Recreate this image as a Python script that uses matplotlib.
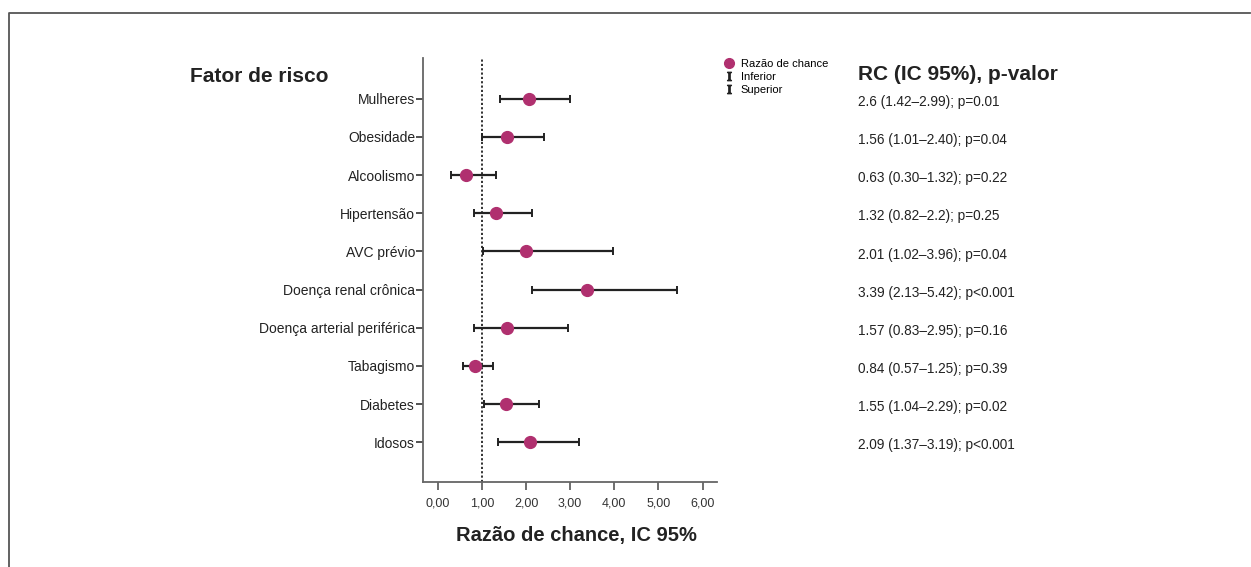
import matplotlib.pyplot as plt
from matplotlib.lines import Line2D
from matplotlib.transforms import blended_transform_factory

# dados
fatores = ['Mulheres', 'Obesidade', 'Alcoolismo', 'Hipertensão', 'AVC prévio',
           'Doença renal crônica', 'Doença arterial periférica', 'Tabagismo',
           'Diabetes', 'Idosos']
razao = [2.06, 1.56, 0.63, 1.32, 2.01, 3.39, 1.57, 0.84, 1.55, 2.09]
inferior = [1.42, 1.01, 0.30, 0.82, 1.02, 2.13, 0.83, 0.57, 1.04, 1.37]
superior = [2.99, 2.40, 1.32, 2.14, 3.96, 5.42, 2.95, 1.25, 2.29, 3.19]
rotulos = ['2.6 (1.42–2.99); p=0.01', '1.56 (1.01–2.40); p=0.04',
           '0.63 (0.30–1.32); p=0.22', '1.32 (0.82–2.2); p=0.25',
           '2.01 (1.02–3.96); p=0.04', '3.39 (2.13–5.42); p<0.001',
           '1.57 (0.83–2.95); p=0.16', '0.84 (0.57–1.25); p=0.39',
           '1.55 (1.04–2.29); p=0.02', '2.09 (1.37–3.19); p<0.001']
xticks = [0, 1, 2, 3, 4, 5, 6]
xtick_labels = ['0,00', '1,00', '2,00', '3,00', '4,00', '5,00', '6,00']

plt.rcParams['font.family'] = ['Liberation Sans', 'DejaVu Sans']
plt.rcParams['mathtext.fontset'] = 'stix'
cor = '#B0306F'
escuro = '#222222'

fig = plt.figure(figsize=(12.51, 5.67), dpi=100)
ax = fig.add_axes([0.3384, 0.1494, 0.2345, 0.7483])

y = list(range(len(fatores)))
err = [[r - lo for r, lo in zip(razao, inferior)],
       [hi - r for r, hi in zip(razao, superior)]]
ax.errorbar(razao, y, xerr=err, fmt='none', ecolor=escuro, elinewidth=1.6,
            capsize=3, capthick=1.4, zorder=2)
ax.plot(razao, y, 'o', color=cor, markersize=8.5, zorder=3, linestyle='none')
ax.axvline(1, color=escuro, linestyle=(0, (1.2, 1.2)), linewidth=1.3, zorder=1)

ax.set_xlim(-0.326, 6.32)
ax.set_ylim(10.05, -1.07)
ax.set_yticks(y)
ax.set_yticklabels(fatores, fontsize=10, color=escuro)
ax.set_xticks(xticks)
ax.set_xticklabels(xtick_labels, fontsize=9, color='#333333')
ax.tick_params(axis='y', length=5, width=1.2, color='#333333', pad=1)
ax.tick_params(axis='x', length=6, width=1.2, color='#555555', pad=5)
for s in ['top', 'right']:
    ax.spines[s].set_visible(False)
for s in ['left', 'bottom']:
    ax.spines[s].set_color('#666666')
    ax.spines[s].set_linewidth(1.3)

# textos à direita (x em coordenadas da figura, y nas linhas do gráfico)
trans = blended_transform_factory(fig.transFigure, ax.transData)
for yi, txt in zip(y, rotulos):
    ax.text(858 / 1251, yi + 0.08, txt, transform=trans, fontsize=9.8,
            color=escuro, va='center', ha='left')

fig.text(190 / 1251, 1 - 77 / 567, 'Fator de risco', fontsize=15, fontweight='bold',
         color=escuro, va='center', ha='left')
fig.text(858 / 1251, 1 - 75 / 567, 'RC (IC 95%), p-valor', fontsize=15,
         fontweight='bold', color=escuro, va='center', ha='left')
fig.text(576 / 1251, 1 - 536 / 567, 'Razão de chance, IC 95%', fontsize=14.5,
         fontweight='bold', color=escuro, va='center', ha='center')

handles = [Line2D([], [], marker='o', color=cor, linestyle='none', markersize=7),
           Line2D([], [], marker='$\\mathrm{I}$', color=escuro, linestyle='none',
                  markersize=6),
           Line2D([], [], marker='$\\mathrm{I}$', color=escuro, linestyle='none',
                  markersize=6)]
fig.legend(handles, ['Razão de chance', 'Inferior', 'Superior'],
           loc='upper left', bbox_to_anchor=(725 / 1251, 1 - 59 / 567),
           frameon=False, fontsize=8, handlelength=0.8, handletextpad=0.6,
           labelspacing=0.25, borderaxespad=0, borderpad=0)

# moldura (topo e esquerda)
fig.add_artist(Line2D([9 / 1251, 9 / 1251, 1250 / 1251], [0, 1 - 13 / 567, 1 - 13 / 567],
                      transform=fig.transFigure, color='#555555', linewidth=1.3))

fig.savefig('out.png', dpi=100)
